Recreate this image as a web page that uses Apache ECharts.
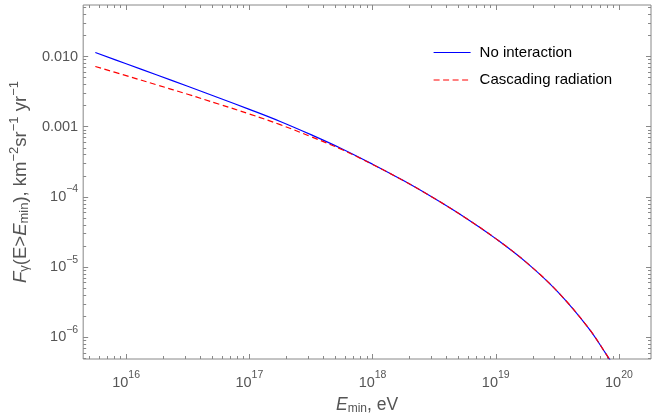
<!DOCTYPE html>
<html>
<head>
<meta charset="utf-8">
<script src="https://cdn.jsdelivr.net/npm/echarts@6/dist/echarts.min.js"></script>
<style>
  html, body { margin: 0; padding: 0; background: #fff; }
  #chart { width: 652px; height: 420px; }
</style>
</head>
<body>
<div id="chart"></div>
<script>
  // E_min in eV, quarter-decade steps
  var energy = [5.62e15, 1e16, 1.78e16, 3.16e16, 5.62e16, 1e17, 1.78e17, 3.16e17, 5.62e17,
    1e18, 1.78e18, 3.16e18, 5.62e18, 1e19, 1.78e19, 3.16e19, 5.62e19, 7.94e19, 8.91e19]
  // integral flux, km^-2 sr^-1 yr^-1
  var noInteraction = [1.14e-2, 7.9e-3, 5.46e-3, 3.77e-3, 2.59e-3, 1.77e-3, 1.19e-3, 7.72e-4, 4.87e-4,
    2.93e-4, 1.71e-4, 9.58e-5, 5.11e-5, 2.55e-5, 1.16e-5, 4.52e-6, 1.38e-6, 5.64e-7, 4.11e-7]
  var cascading = [7.21e-3, 5.34e-3, 3.94e-3, 2.9e-3, 2.11e-3, 1.52e-3, 1.07e-3, 7.23e-4, 4.74e-4,
    2.9e-4, 1.71e-4, 9.58e-5, 5.11e-5, 2.55e-5, 1.16e-5, 4.52e-6, 1.38e-6, 5.64e-7, 4.11e-7]
  var seriesNames = ['No interaction', 'Cascading radiation']

  var xMajor = [1e16, 1e17, 1e18, 1e19, 1e20]
  var yMajor = [1e-2, 1e-3, 1e-4, 1e-5, 1e-6]
  var xRange = [4.48e15, 1.82e20]
  var yRange = [4.92e-7, 0.0542]

  var font = 'Liberation Sans'
  var frame = '#888'
  var labelColor = '#555'

  // 2..9 x 10^d inside the range
  function minorTicks(range, dFrom, dTo) {
    var out = []
    for (var d = dFrom; d <= dTo; d++) {
      for (var k = 2; k <= 9; k++) {
        var v = k * Math.pow(10, d)
        if (v > range[0] && v < range[1]) out.push(v)
      }
    }
    return out
  }
  var xMinor = minorTicks(xRange, 15, 20)
  var yMinor = minorTicks(yRange, -7, -2)

  function expOf(v) {
    return Math.round(Math.log10(v))
  }

  var richTick = {
    b: { fontSize: 14.5, color: labelColor, fontFamily: font },
    s: { fontSize: 10.5, color: labelColor, fontFamily: font, padding: [0, 0, 15, 0] }
  }

  function xLabel(v) {
    return '{b|10}{s|' + expOf(v) + '}'
  }
  function yLabel(v) {
    var e = expOf(v)
    if (e === -2) return '{b|0.010}'
    if (e === -3) return '{b|0.001}'
    return '{b|10}{s|\u2212' + (-e) + '}'
  }

  function makeAxis(pos, range, ticks, len, formatter, margin) {
    return {
      type: 'log',
      position: pos,
      min: range[0],
      max: range[1],
      axisLine: { show: false },
      splitLine: { show: false },
      axisTick: {
        show: true,
        inside: true,
        length: len,
        customValues: ticks,
        lineStyle: { color: frame, width: 1 }
      },
      axisLabel: formatter ? {
        show: true,
        customValues: ticks,
        formatter: formatter,
        margin: margin,
        rich: richTick
      } : { show: false }
    }
  }

  var xAxes = [
    makeAxis('bottom', xRange, xMajor, 5, xLabel, 11),
    makeAxis('bottom', xRange, xMinor, 3),
    makeAxis('top', xRange, xMajor, 5),
    makeAxis('top', xRange, xMinor, 3)
  ]
  var yAxes = [
    makeAxis('left', yRange, yMajor, 5, yLabel, 5),
    makeAxis('left', yRange, yMinor, 3),
    makeAxis('right', yRange, yMajor, 5),
    makeAxis('right', yRange, yMinor, 3)
  ]

  xAxes[0].name = '{i|E}{sub|min}{n|, eV}'
  xAxes[0].nameLocation = 'middle'
  xAxes[0].nameGap = 36
  xAxes[0].nameTextStyle = {
    rich: {
      i: { fontSize: 17.5, fontStyle: 'italic', color: labelColor, fontFamily: font },
      sub: { fontSize: 12, color: labelColor, fontFamily: font, padding: [8, 0, 0, 0] },
      n: { fontSize: 17.5, color: labelColor, fontFamily: font }
    }
  }

  yAxes[0].name = '{i|F}{sub|\u03b3}{n|(E>}{i|E}{sub|min}{n|), km}{sup|\u22122}{n|sr}{sup|\u22121}{n| yr}{sup|\u22121}'
  yAxes[0].nameLocation = 'middle'
  yAxes[0].nameGap = 47
  yAxes[0].nameTextStyle = {
    rich: {
      i: { fontSize: 18.5, fontStyle: 'italic', color: labelColor, fontFamily: font },
      n: { fontSize: 18.5, color: labelColor, fontFamily: font },
      sub: { fontSize: 13, color: labelColor, fontFamily: font, padding: [8, 0, 0, 0] },
      sup: { fontSize: 13, color: labelColor, fontFamily: font, padding: [0, 0, 12, 0] }
    }
  }

  function pairs(ys) {
    return energy.map(function (e, i) { return [e, ys[i]] })
  }

  var chart = echarts.init(document.getElementById('chart'), null, { renderer: 'canvas' })
  chart.setOption({
    animation: false,
    backgroundColor: '#fff',
    grid: {
      left: 83,
      right: 1,
      top: 5,
      bottom: 60,
      show: true,
      borderColor: frame,
      borderWidth: 1,
      backgroundColor: 'transparent'
    },
    legend: {
      orient: 'vertical',
      left: 433,
      top: 45,
      padding: 0,
      itemWidth: 37,
      itemHeight: 14,
      itemGap: 12.5,
      data: seriesNames,
      itemStyle: { opacity: 0 },
      lineStyle: { width: 1.2 },
      textStyle: { fontSize: 15, color: '#000', fontFamily: font, padding: [0, 0, 0, 4] }
    },
    xAxis: xAxes,
    yAxis: yAxes,
    series: [{
      name: seriesNames[0],
      type: 'line',
      data: pairs(noInteraction),
      symbol: 'none',
      smooth: 0.4,
      lineStyle: { color: '#0000ff', width: 1.2 },
      itemStyle: { color: '#0000ff' },
      z: 3
    }, {
      name: seriesNames[1],
      type: 'line',
      data: pairs(cascading),
      symbol: 'none',
      smooth: 0.4,
      lineStyle: { color: '#ff0000', width: 1.2, type: [6, 3.5] },
      itemStyle: { color: '#ff0000' },
      z: 4
    }]
  })
</script>
</body>
</html>
